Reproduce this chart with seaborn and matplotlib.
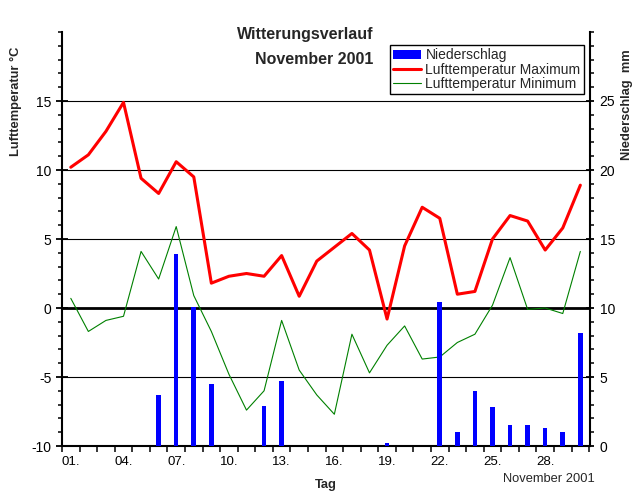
import numpy as np
import pandas as pd
import matplotlib
matplotlib.use("Agg")
import matplotlib.pyplot as plt
import seaborn as sns
from matplotlib.patches import Patch
from matplotlib.lines import Line2D
from matplotlib.ticker import FixedLocator, MultipleLocator

# Tageswerte November 2001
days = list(range(1, 31))
t_max = [10.2, 11.1, 12.8, 14.9, 9.4, 8.3, 10.6, 9.5, 1.8, 2.3,
         2.5, 2.3, 3.8, 0.85, 3.4, 4.4, 5.4, 4.2, -0.8, 4.5,
         7.3, 6.5, 1.0, 1.2, 5.0, 6.7, 6.3, 4.2, 5.8, 8.9]
t_min = [0.7, -1.7, -0.9, -0.6, 4.1, 2.1, 5.9, 0.9, -1.7, -4.8,
         -7.4, -6.0, -0.9, -4.5, -6.3, -7.7, -1.9, -4.7, -2.7, -1.3,
         -3.7, -3.55, -2.5, -1.9, 0.2, 3.65, -0.1, 0.0, -0.4, 4.1]
precip = [0, 0, 0, 0, 0, 3.7, 13.9, 10.1, 4.5, 0,
          0, 2.9, 4.7, 0, 0, 0, 0, 0, 0.2, 0,
          0, 10.4, 1.0, 4.0, 2.8, 1.5, 1.5, 1.3, 1.0, 8.2]

label_days = [1, 4, 7, 10, 13, 16, 19, 22, 25, 28]
label_text = ["01.", "04.", "07.", "10.", "13.", "16.", "19.", "22.", "25.", "28."]
temp_ticks = [-10, -5, 0, 5, 10, 15]
rain_ticks = [0, 5, 10, 15, 20, 25]

COL_RAIN = "#0000ff"
COL_MAX = "#ff0000"
COL_MIN = "#008000"

df = pd.DataFrame({"Tag": days, "Tmax": t_max, "Tmin": t_min, "RR": precip})

sns.set_theme(style="white")
plt.rcParams["font.family"] = ["Liberation Sans", "DejaVu Sans"]
plt.rcParams["axes.unicode_minus"] = False

W, H = 644, 498
fig = plt.figure(figsize=(W / 100, H / 100), dpi=100)
ax = fig.add_axes([62 / W, 52 / H, 528 / W, 414 / H])
ax2 = ax.twinx()

# Temperaturlinien
sns.lineplot(data=df, x="Tag", y="Tmax", ax=ax, color=COL_MAX, lw=2.2)
sns.lineplot(data=df, x="Tag", y="Tmin", ax=ax, color=COL_MIN, lw=0.8)
ax.axhline(0, color="black", lw=2.0, zorder=1)
ax.yaxis.grid(True, which="major", color="black", lw=0.8)
ax.set_axisbelow(True)

# Niederschlag als Balken (liegt oben, wie im Original)
sns.barplot(data=df, x="Tag", y="RR", ax=ax2, native_scale=True, width=0.26,
            color=COL_RAIN, saturation=1, errorbar=None, linewidth=0)

ax.set_xlim(0.5, 30.55)
ax.set_ylim(-10, 20)
ax2.set_ylim(0, 30)

ax.xaxis.set_major_locator(FixedLocator(label_days))
ax.set_xticklabels(label_text)
ax.xaxis.set_minor_locator(FixedLocator(np.arange(0.5, 31, 1)))
ax.tick_params(axis="x", which="major", length=0, pad=7, labelsize=9.5, colors="black")
ax.tick_params(axis="x", which="minor", bottom=True, direction="out", length=4, width=1.3)

ax.yaxis.set_major_locator(FixedLocator(temp_ticks))
ax.yaxis.set_minor_locator(MultipleLocator(1))
ax.tick_params(axis="y", which="major", left=True, direction="inout", length=9, width=1.3,
               pad=3, labelsize=10, colors="black")
ax.tick_params(axis="y", which="minor", left=True, direction="out", length=3, width=1.3)

ax2.yaxis.set_major_locator(FixedLocator(rain_ticks))
ax2.yaxis.set_minor_locator(MultipleLocator(1))
ax2.tick_params(axis="y", which="major", right=True, direction="inout", length=6, width=1.3,
                pad=4, labelsize=10, colors="black")
ax2.tick_params(axis="y", which="minor", right=True, direction="out", length=3, width=1.3)

ax.set_xlabel("")
ax.set_ylabel("")
ax2.set_xlabel("")
ax2.set_ylabel("")

for s in ["top", "right"]:
    ax.spines[s].set_visible(False)
for s in ["top", "left", "bottom"]:
    ax2.spines[s].set_visible(False)
for s in ["left", "bottom"]:
    ax.spines[s].set_linewidth(1.5)
    ax.spines[s].set_color("black")
ax2.spines["right"].set_linewidth(1.5)
ax2.spines["right"].set_color("black")

handles = [Patch(facecolor=COL_RAIN, edgecolor="none"),
           Line2D([], [], color=COL_MAX, lw=2.2),
           Line2D([], [], color=COL_MIN, lw=0.8)]
labels = ["Niederschlag", "Lufttemperatur Maximum", "Lufttemperatur Minimum"]
leg = ax2.legend(handles, labels, loc="upper right", bbox_to_anchor=(0.9886, 0.9686),
                 frameon=True, fancybox=False, edgecolor="black", framealpha=1,
                 fontsize=10, handlelength=2.0, handleheight=0.6, handletextpad=0.3,
                 labelspacing=0.02, borderpad=0.25, borderaxespad=0)
leg.get_frame().set_linewidth(1.0)

# Titel und Achsentexte
fig.text(373 / W, 1 - 35 / H, "Witterungsverlauf", ha="right", va="center",
         fontsize=11.5, fontweight="bold")
fig.text(373 / W, 1 - 59 / H, "November 2001", ha="right", va="center",
         fontsize=11.5, fontweight="bold")
fig.text(16 / W, 1 - 101 / H, "Lufttemperatur °C", rotation=90, ha="center", va="center",
         fontsize=9.3, fontweight="bold")
fig.text(627 / W, 1 - 105 / H, "Niederschlag  mm", rotation=90, ha="center", va="center",
         fontsize=9.3, fontweight="bold")
fig.text(326 / W, 1 - 485 / H, "Tag", ha="center", va="center", fontsize=9.3, fontweight="bold")
fig.text(595 / W, 1 - 479 / H, "November 2001", ha="right", va="center", fontsize=9.3)

fig.savefig("out.png", dpi=100)
